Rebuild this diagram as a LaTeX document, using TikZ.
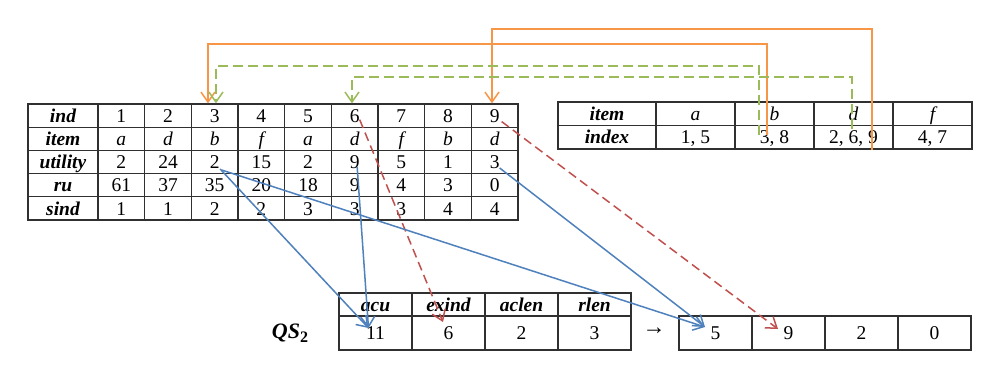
\documentclass[tikz,border=0pt]{standalone}
\usepackage{fontspec}
\setmainfont{Liberation Serif}
\usetikzlibrary{arrows.meta,calc}
\definecolor{orA}{HTML}{F79646}
\definecolor{grA}{HTML}{9BBB59}
\definecolor{blA}{HTML}{4F81BD}
\definecolor{rdA}{HTML}{C0504D}
\definecolor{tblc}{HTML}{303030}
\newcommand\fsz{\fontsize{19.5}{21}\selectfont}
\begin{document}
\begin{tikzpicture}[x=1pt,y=-1pt,
  cell/.style={draw=tblc, line width=1.3pt, inner sep=0pt, anchor=center, font=\fsz, text height=16.3pt, text depth=3.1pt},
  hd/.style={cell, minimum width=70pt, minimum height=23.2pt, font=\fsz\bfseries\itshape},
  dc/.style={cell, minimum width=46.667pt, minimum height=23.2pt},
  hdi/.style={cell, minimum width=98pt, minimum height=23.5pt, font=\fsz\bfseries\itshape},
  ic/.style={cell, minimum width=79pt, minimum height=23.5pt},
  qh/.style={cell, minimum width=73pt, minimum height=23pt, font=\fsz\bfseries\itshape},
  qv/.style={cell, minimum width=73pt, minimum height=34pt},
  tip/.style={-{Straight Barb[length=10pt,width=14pt]}},
  oline/.style={draw=orA, line width=1.5pt, tip},
  gline/.style={draw=grA, line width=1.5pt, dash pattern=on 10pt off 5pt, tip},
  bline/.style={draw=blA, line width=1.5pt, tip},
  rline/.style={draw=rdA, line width=1.5pt, dash pattern=on 9pt off 5pt, tip}]
\useasboundingbox[fill=white] (0,0) rectangle (997,380);

% left table
\node[hd] (L1-0) at (63,{104+23.2*0.5}) {ind};
\node[hd] (L2-0) at (63,{104+23.2*1.5}) {item};
\node[hd] (L3-0) at (63,{104+23.2*2.5}) {utility};
\node[hd] (L4-0) at (63,{104+23.2*3.5}) {ru};
\node[hd] (L5-0) at (63,{104+23.2*4.5}) {sind};
\foreach \v [count=\k] in {1,2,3,4,5,6,7,8,9}
  \node[dc] (L1-\k) at ({98+46.667*(\k-0.5)},{104+23.2*0.5}) {\v};
\foreach \v [count=\k] in {a,d,b,f,a,d,f,b,d}
  \node[dc, font=\fsz\itshape] (L2-\k) at ({98+46.667*(\k-0.5)},{104+23.2*1.5}) {\v};
\foreach \v [count=\k] in {2,24,2,15,2,9,5,1,3}
  \node[dc] (L3-\k) at ({98+46.667*(\k-0.5)},{104+23.2*2.5}) {\v};
\foreach \v [count=\k] in {61,37,35,20,18,9,4,3,0}
  \node[dc] (L4-\k) at ({98+46.667*(\k-0.5)},{104+23.2*3.5}) {\v};
\foreach \v [count=\k] in {1,1,2,2,3,3,3,4,4}
  \node[dc] (L5-\k) at ({98+46.667*(\k-0.5)},{104+23.2*4.5}) {\v};

% index table
\node[hdi] (I1-0) at (607,113.75) {item};
\node[hdi] (I2-0) at (607,137.25) {index};
\foreach \v [count=\k] in {a,b,d,f}
  \node[ic, font=\fsz\itshape] (I1-\k) at ({656+79*(\k-0.5)},113.75) {\v};
\foreach \v [count=\k] in {{1, 5},{3, 8},{2, 6, 9},{4, 7}}
  \node[ic] (I2-\k) at ({656+79*(\k-0.5)},137.25) {\v};

% QS tables
\foreach \v [count=\k] in {acu,exind,aclen,rlen}
  \node[qh] (Q1-\k) at ({339+73*(\k-0.5)},304.5) {\v};
\foreach \v [count=\k] in {11,6,2,3}
  \node[qv] (Q2-\k) at ({339+73*(\k-0.5)},333) {\v};
\foreach \v [count=\k] in {5,9,2,0}
  \node[qv] (R-\k) at ({679+73*(\k-0.5)},333) {\v};
\node[font=\fontsize{22}{23}\selectfont\bfseries\itshape] (qs) at (290,333) {QS\raisebox{-4pt}{\fontsize{16}{16}\selectfont\upshape 2}};
\node[font=\fontsize{23}{24}\selectfont] (arr) at (654,331) {→};

% levels
\coordinate (lvA) at (0,29);
\coordinate (lvB) at (0,44);
\coordinate (lvC) at (0,66);
\coordinate (lvD) at (0,77);

% orange
\coordinate (oiS) at ($(I2-2.center)+(-7.5,-2)$);
\coordinate (oiE) at ($(L1-3.north)+(-6.7,0)$);
\coordinate (ooS) at ($(I2-3.south)+(18.5,0)$);
\coordinate (ooE) at ($(L1-9.north)+(-2.7,0)$);
\draw[oline] (oiS) -- (oiS |- lvB) -| (oiE);
\draw[oline] (ooS) -- (ooS |- lvA) -| (ooE);
% green
\coordinate (goS) at ($(I2-2.center)+(-15.5,-2)$);
\coordinate (goE) at ($(L1-3.north)+(1.3,0)$);
\coordinate (giS) at ($(I1-3.south)+(-1.5,2.5)$);
\coordinate (giE) at ($(L1-6.north)+(-2.7,0)$);
\draw[gline] (goS) -- (goS |- lvC) -| (goE);
\draw[gline] (giS) -- (giS |- lvD) -| (giE);

% red dashed
\draw[rline] ($(L1-6.center)+(5,4)$) -- ($(Q2-2.center)+(-5.5,-11)$);
\draw[rline] ($(L1-9.center)+(7,6)$) -- ($(R-2.center)+(-10.5,-4)$);

% blue
\draw[bline] ($(L3-3.center)+(5.5,7)$) -- ($(Q2-1.center)+(-7,-5)$);
\draw[bline] ($(L3-3.center)+(7,8)$) -- ($(R-1.center)+(-10.5,-6)$);
\draw[bline] ($(L3-6.center)+(2.5,5)$) -- ($(Q2-1.center)+(-7,-5)$);
\draw[bline] ($(L3-9.center)+(5,6)$) -- ($(R-1.center)+(-10.5,-6)$);
\end{tikzpicture}
\end{document}
